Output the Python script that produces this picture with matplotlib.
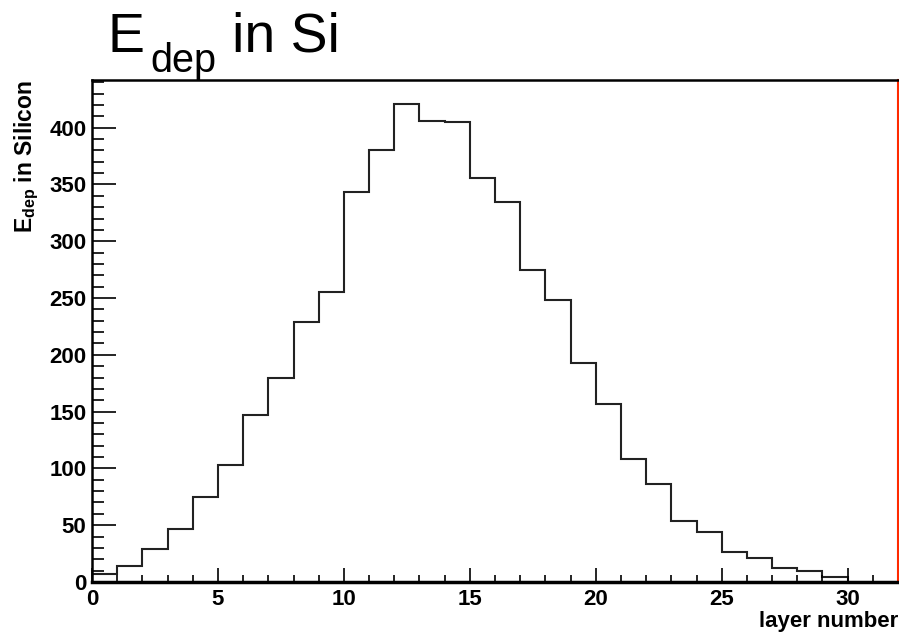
import numpy as np
import matplotlib
matplotlib.use("Agg")
import matplotlib.pyplot as plt
from matplotlib.ticker import MultipleLocator

# Energy deposited per layer
layer_edges = np.arange(0, 31)
edep_values = [7, 14, 29, 47, 75, 103, 147, 180, 229, 255,
               343, 380, 421, 406, 405, 356, 335, 275, 248, 193,
               157, 108, 86, 54, 44, 26, 21, 12, 9.5, 4.5]

plt.rcParams["font.family"] = ["Liberation Sans", "DejaVu Sans"]
plt.rcParams["mathtext.fontset"] = "custom"
plt.rcParams["mathtext.rm"] = "Liberation Sans"
plt.rcParams["mathtext.bf"] = "Liberation Sans:bold"

W, H = 899, 635
fig = plt.figure(figsize=(W / 100, H / 100), dpi=100)
ax = fig.add_axes([92 / W, 1 - 582 / H, (898 - 92) / W, (582 - 80) / H])

ax.stairs(edep_values, layer_edges, color="#222222", linewidth=1.5)

ax.set_xlim(0, 32)
ax.set_ylim(0, 442)

ax.xaxis.set_major_locator(MultipleLocator(5))
ax.xaxis.set_minor_locator(MultipleLocator(1))
ax.yaxis.set_major_locator(MultipleLocator(50))
ax.yaxis.set_minor_locator(MultipleLocator(10))

ax.tick_params(axis="x", which="major", direction="in", length=10, width=1.2,
               pad=5, labelsize=16)
ax.tick_params(axis="x", which="minor", direction="in", length=5, width=1.2)
ax.tick_params(axis="y", which="major", direction="in", length=17, width=1.2,
               pad=4, labelsize=16)
ax.tick_params(axis="y", which="minor", direction="in", length=8.5, width=1.2)
for lab in ax.get_xticklabels() + ax.get_yticklabels():
    lab.set_fontweight("bold")

ax.spines["bottom"].set_linewidth(2.5)
ax.spines["left"].set_linewidth(1.8)
ax.spines["top"].set_linewidth(1.8)
ax.spines["right"].set_linewidth(1.5)
ax.spines["right"].set_color("#ff2a00")

ax.set_ylabel(r"E$_{\mathbf{dep}}$ in Silicon", fontsize=16.5, fontweight="bold",
              loc="top", labelpad=6)
ax.set_xlabel("layer number", fontsize=16, fontweight="bold")
ax.xaxis.label.set_horizontalalignment("right")
ax.xaxis.label.set_verticalalignment("baseline")
ax.xaxis.set_label_coords(1.0, -(627 - 582) / (582 - 80))

# title drawn in pieces so the subscript sits low like the original
fig.text(108 / W, 1 - 52 / H, "E", fontsize=40, ha="left", va="baseline")
fig.text(150 / W, 1 - 72 / H, "dep", fontsize=28.5, ha="left", va="baseline")
fig.text(232 / W, 1 - 52 / H, "in Si", fontsize=40, ha="left", va="baseline")

fig.savefig("out.png", dpi=100)
